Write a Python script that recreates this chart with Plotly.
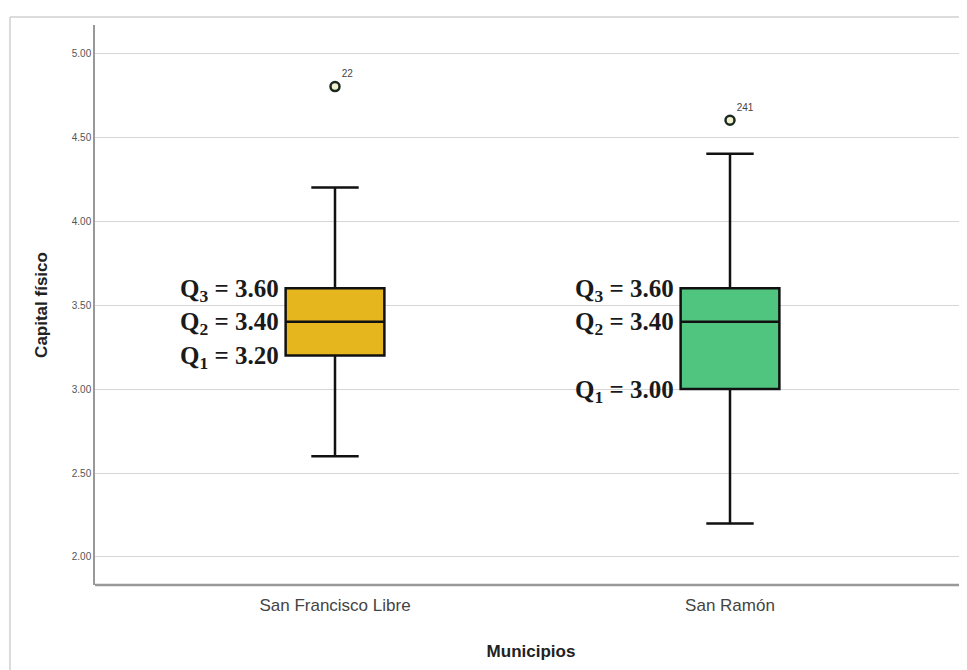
import plotly.graph_objects as go

categories = ["San Francisco Libre", "San Ramón"]
q1_vals = [3.20, 3.00]
median_vals = [3.40, 3.40]
q3_vals = [3.60, 3.60]
lower_vals = [2.60, 2.20]
upper_vals = [4.20, 4.40]
outlier_vals = [4.80, 4.60]
outlier_ids = ["22", "241"]
box_colors = ["#E5B61E", "#50C57F"]

narrow = "Liberation Sans Narrow, Arial Narrow, Liberation Sans, Arial"

fig = go.Figure()
for i, cat in enumerate(categories):
    fig.add_trace(go.Box(
        x=[cat], q1=[q1_vals[i]], median=[median_vals[i]], q3=[q3_vals[i]],
        lowerfence=[lower_vals[i]], upperfence=[upper_vals[i]],
        fillcolor=box_colors[i], line=dict(color="#111111", width=2.5),
        width=0.25, whiskerwidth=0.48, boxpoints=False, hoverinfo="skip",
    ))

fig.add_trace(go.Scatter(
    x=categories, y=outlier_vals, mode="markers+text",
    text=outlier_ids, textposition="top right",
    textfont=dict(family=narrow, size=10, color="#444444"),
    marker=dict(symbol="circle", size=9, color="#f4f1d0",
                line=dict(color="#1a2a1f", width=2.5)),
    hoverinfo="skip",
))

serif = "Liberation Serif, Times New Roman, serif"
for i, cat in enumerate(categories):
    for sub, val in (("3", q3_vals[i]), ("2", median_vals[i]), ("1", q1_vals[i])):
        fig.add_annotation(
            x=cat, y=val, xref="x", yref="y",
            text=f"<b>Q<sub>{sub}</sub> = {val:.2f}</b>",
            showarrow=False, xanchor="right", xshift=-54, yshift=-2,
            font=dict(family=serif, size=25, color="#1a1a1a"),
        )

# outer frame lines
fig.add_shape(type="line", xref="paper", yref="paper", x0=-0.0975, x1=1.02, y0=1.0143, y1=1.0143,
              line=dict(color="#d0d0d0", width=1.5))
fig.add_shape(type="line", xref="paper", yref="paper", x0=-0.0975, x1=-0.0975, y0=1.0143, y1=-0.2,
              line=dict(color="#d0d0d0", width=1.5))

fig.update_layout(
    width=967, height=670,
    margin=dict(l=87, r=8, t=17, b=93),
    paper_bgcolor="white", plot_bgcolor="white",
    showlegend=False,
    xaxis=dict(
        range=[-0.6076, 1.6], showgrid=False, showline=False, ticks="",
        ticklabelstandoff=8,
        tickfont=dict(family=narrow, size=17, color="#444444"),
        title=dict(text="<b>Municipios</b>", standoff=31,
                   font=dict(family=narrow, size=17, color="#222222")),
    ),
    yaxis=dict(
        range=[1.8333, 5.1667], tickvals=[2.0, 2.5, 3.0, 3.5, 4.0, 4.5, 5.0], tickformat=".2f",
        showgrid=True, gridcolor="#d6d6d6", gridwidth=1.2,
        showline=True, linecolor="#999999", linewidth=1.5, ticks="", zeroline=False,
        tickfont=dict(family=narrow, size=10, color="#555555"),
        title=dict(text="<b>Capital físico</b>", standoff=20,
                   font=dict(family="Liberation Sans, Arial", size=17, color="#222222")),
    ),
)
fig.add_shape(type="line", xref="paper", yref="paper", x0=0, x1=1.02, y0=0, y1=0,
              line=dict(color="#999999", width=2.5))

fig.write_html("out.html")
